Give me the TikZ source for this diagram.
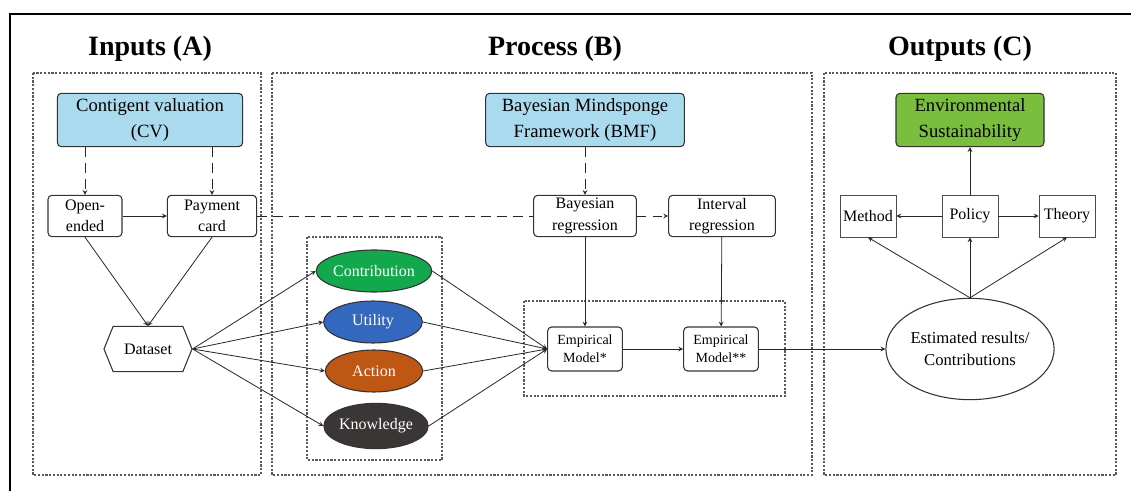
\documentclass[tikz,border=0pt]{standalone}
\usepackage{fontspec}
\setmainfont{Liberation Serif}
\usepackage{tikz}
\usetikzlibrary{arrows, positioning, calc, shapes}
\definecolor{celestito}{RGB}{170,218,238}
\definecolor{verdecito}{RGB}{122,190,62}
\definecolor{verdon}{RGB}{20,168,78}
\definecolor{azulito}{RGB}{52,104,190}
\definecolor{naranjito}{RGB}{190,86,20}
\definecolor{grisito}{RGB}{58,54,54}
\tikzset{>=stealth}
\tikzset{titulo/.style={font=\fontsize{21}{24}\selectfont\bfseries},
	punteado/.style={draw=black!65, line width=0.8pt, dash pattern=on 1.6pt off 1.2pt},
	caja/.style={draw=black!80, line width=0.8pt, rounded corners=3pt, align=center, inner sep=1pt, fill=white, font=\fontsize{12}{16}\selectfont, minimum height=31pt},
	cajaazul/.style={caja, fill=celestito, font=\fontsize{14}{20}\selectfont, minimum height=40pt},
	cajaemp/.style={caja, font=\fontsize{10.5}{13.5}\selectfont, minimum height=33pt, minimum width=56pt},
	cuadro/.style={draw=black!70, line width=0.6pt, align=center, inner sep=1pt, font=\fontsize{12}{15}\selectfont, minimum height=31.5pt, minimum width=42pt},
	ovalo/.style={ellipse, draw=black!80, line width=0.8pt, inner sep=0pt, text=white, font=\fontsize{12}{15}\selectfont, minimum width=71pt, minimum height=31.5pt},
	hexa/.style={signal, signal to=east and west, signal pointer angle=136, draw=black!80, line width=0.8pt, inner sep=1pt, font=\fontsize{12}{15}\selectfont, minimum width=66pt, minimum height=34pt},
	flecha/.style={->, line width=0.6pt, black!85},
	guion/.style={line width=0.6pt, black!85, dash pattern=on 7pt off 5pt}}

\begin{document}
\begin{tikzpicture}[x=0.75pt, y=-0.75pt]
	\useasboundingbox (0,0) rectangle (1131,491);
	\draw [line width=1.6pt] (1131,14) -- (10,14) -- (10,491);
	\node [titulo] (tA) at (150,49) {Inputs (A)};
	\node [titulo] (tB) at (555,49) {Process (B)};
	\node [titulo] (tC) at (960,49) {Outputs (C)};
	% zonas
	\draw [punteado] (33,73) rectangle (261,475);
	\draw [punteado] (272,73) rectangle (812,475);
	\draw [punteado] (824,73) rectangle (1116,475);
	\draw [punteado] (307,237) rectangle (442,460);
	\draw [punteado] (524,301) rectangle (785,396);

	% inputs
	\node [cajaazul, minimum width=139pt] (cv) at (150,120) {Contigent valuation\\(CV)};
	\node [caja, minimum width=55.5pt] (open) at (85,216) {Open-\\ended};
	\node [caja, minimum width=67pt] (pay) at (212,216) {Payment\\card};
	\node [hexa] (data) at (148,349) {Dataset};
	\draw [guion,->] (cv.south -| open.north) -- (open.north);
	\draw [guion,->] (cv.south -| pay.north) -- (pay.north);
	\draw [flecha] (open) -- (pay);
	\draw [flecha] (open.south) -- (data.north);
	\draw [flecha] (pay.south) -- (data.north);

	% process
	\node [ovalo, fill=verdon] (contrib) at (374,271) {Contribution};
	\node [ovalo, fill=azulito, minimum width=74pt] (util) at (373,322) {Utility};
	\node [ovalo, fill=naranjito, minimum width=73pt] (accion) at (374,371) {Action};
	\node [ovalo, fill=grisito, minimum height=34pt] (saber) at (376,426) {Knowledge};
	\node [cajaazul, minimum width=149pt] (bmf) at (585,120) {Bayesian Mindsponge\\Framework (BMF)};
	\node [caja, minimum width=77pt] (breg) at (585,216) {Bayesian\\regression};
	\node [caja, minimum width=80pt] (ireg) at (722,216) {Interval\\regression};
	\node [cajaemp] (emp1) at (585,349) {Empirical\\Model*};
	\node [cajaemp] (emp2) at (721,349) {Empirical\\Model**};
	\foreach \o in {contrib, util, accion, saber} {
		\draw [flecha] (data.east) -- (\o.west);
		\draw [flecha] (\o.east) -- (emp1.west);
	}
	\draw [guion] (pay) -- (breg);
	\draw [guion,->] (bmf) -- (breg);
	\draw [guion,->] (breg) -- (ireg);
	\draw [flecha] (breg) -- (emp1);
	\draw [flecha] (ireg) -- (emp2);
	\draw [flecha] (emp1) -- (emp2);

	% outputs
	\node [ellipse, draw=black!80, line width=0.8pt, align=center, inner sep=0pt, font=\fontsize{12.5}{16.5}\selectfont, minimum width=111pt, minimum height=76pt] (est) at (970,349) {Estimated results/\\Contributions};
	\node [cajaazul, fill=verdecito, minimum width=111pt] (env) at (970,120) {Environmental\\Sustainability};
	\node [cuadro] (metodo) at (868,216) {Method};
	\node [cuadro] (pol) at (970,216) {Policy};
	\node [cuadro] (teoria) at (1067,216) {Theory};
	\draw [flecha] (emp2) -- (est);
	\draw [flecha] (pol) -- (metodo);
	\draw [flecha] (pol) -- (teoria);
	\draw [flecha] (pol) -- (env);
	\foreach \o in {metodo, pol, teoria}
		\draw [flecha] (est.north) -- (\o.south);
\end{tikzpicture}
\end{document}
